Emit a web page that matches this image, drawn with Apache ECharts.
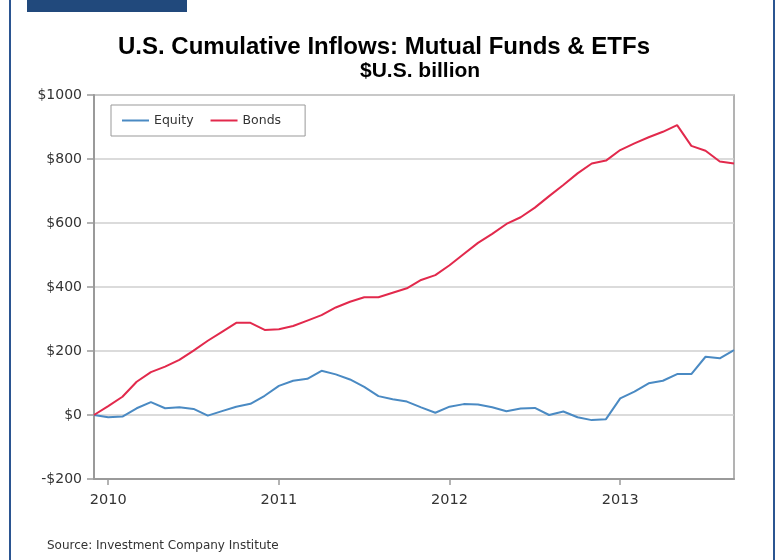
<!DOCTYPE html>
<html>
<head>
<meta charset="utf-8">
<script src="https://cdn.jsdelivr.net/npm/echarts@6/dist/echarts.min.js"></script>
<style>
  html, body { margin: 0; padding: 0; background: #fff; }
  #chart { width: 777px; height: 560px; }
</style>
</head>
<body>
<div id="chart"></div>
<script>
// monthly, Dec 2009 .. Sep 2013
const months = [
  '2009-12',
  '2010-01', '2010-02', '2010-03', '2010-04', '2010-05', '2010-06',
  '2010-07', '2010-08', '2010-09', '2010-10', '2010-11', '2010-12',
  '2011-01', '2011-02', '2011-03', '2011-04', '2011-05', '2011-06',
  '2011-07', '2011-08', '2011-09', '2011-10', '2011-11', '2011-12',
  '2012-01', '2012-02', '2012-03', '2012-04', '2012-05', '2012-06',
  '2012-07', '2012-08', '2012-09', '2012-10', '2012-11', '2012-12',
  '2013-01', '2013-02', '2013-03', '2013-04', '2013-05', '2013-06',
  '2013-07', '2013-08', '2013-09'
]

const equity = [
  0,
  -7, -5, 21, 40, 21, 24, 19, -2, 12, 26, 35, 60,
  91, 107, 113, 138, 127, 111, 88, 59, 49, 42, 24, 7,
  26, 34, 33, 24, 12, 20, 22, 0, 11, -7, -16, -13,
  52, 73, 99, 107, 128, 128, 182, 177, 203
]

const bonds = [
  0,
  28, 57, 104, 134, 151, 172, 201, 232, 260, 288, 288, 266,
  268, 278, 295, 312, 336, 354, 368, 368, 382, 396, 422, 437,
  468, 503, 538, 566, 597, 618, 648, 684, 719, 755, 786, 795,
  828, 849, 868, 885, 906, 841, 826, 792, 786
]

const yTicks = { min: -200, max: 1000, step: 200 }

const chart = echarts.init(document.getElementById('chart'))

const isJan = (i, v) => String(v).endsWith('-01')
const fmtMoney = v => (v < 0 ? '-$' + (-v) : '$' + v)

const option = {
  backgroundColor: '#fff',
  animation: false,
  title: [
    {
      text: 'U.S. Cumulative Inflows: Mutual Funds & ETFs',
      left: 118,
      top: 35,
      padding: 0,
      textStyle: { fontFamily: 'Liberation Sans', fontWeight: 'bold', fontSize: 24, color: '#000' }
    },
    {
      text: '$U.S. billion',
      left: 360,
      top: 61,
      padding: 0,
      textStyle: { fontFamily: 'Liberation Sans', fontWeight: 'bold', fontSize: 21, color: '#000' }
    },
    {
      text: 'Source: Investment Company Institute',
      left: 47,
      top: 540,
      padding: 0,
      textStyle: { fontFamily: 'DejaVu Sans', fontWeight: 'normal', fontSize: 12, color: '#333' }
    }
  ],
  graphic: [
    { type: 'rect', shape: { x: 27, y: 0, width: 160, height: 12 }, style: { fill: '#21497c' } },
    { type: 'rect', shape: { x: 9, y: 0, width: 2, height: 560 }, style: { fill: '#2b5591' } },
    { type: 'rect', shape: { x: 773, y: 0, width: 2, height: 560 }, style: { fill: '#2b5591' } }
  ],
  legend: {
    left: 111,
    top: 105,
    orient: 'horizontal',
    icon: 'rect',
    itemWidth: 27,
    itemHeight: 2,
    itemGap: 17,
    padding: [9, 24, 9, 11],
    borderColor: '#999',
    borderWidth: 1,
    textStyle: { fontFamily: 'DejaVu Sans', fontSize: 12.5, color: '#333' },
    data: ['Equity', 'Bonds']
  },
  grid: {
    left: 94, right: 43, top: 95, bottom: 81,
    show: true,
    borderColor: '#9a9a9a',
    borderWidth: 1.5,
    backgroundColor: 'transparent'
  },
  xAxis: {
    type: 'category',
    data: months,
    boundaryGap: false,
    axisLine: { onZero: false, lineStyle: { color: '#9a9a9a', width: 2 } },
    axisTick: { interval: isJan, length: 6, lineStyle: { color: '#9a9a9a', width: 1.5 } },
    axisLabel: {
      interval: isJan,
      formatter: v => v.slice(0, 4),
      margin: 14,
      fontFamily: 'DejaVu Sans',
      fontSize: 14.5,
      color: '#333'
    },
    splitLine: { show: false }
  },
  yAxis: {
    type: 'value',
    min: yTicks.min,
    max: yTicks.max,
    interval: yTicks.step,
    axisLine: { show: true, lineStyle: { color: '#9a9a9a', width: 2 } },
    axisTick: { show: true, length: 7, lineStyle: { color: '#9a9a9a', width: 1.5 } },
    axisLabel: {
      formatter: fmtMoney,
      margin: 12,
      fontFamily: 'DejaVu Sans',
      fontSize: 14,
      color: '#333'
    },
    splitLine: { lineStyle: { color: '#cfcfcf', width: 1.5 } }
  },
  series: [
    {
      name: 'Equity',
      type: 'line',
      data: equity,
      symbol: 'none',
      lineStyle: { color: '#4a8ac3', width: 2 },
      itemStyle: { color: '#4a8ac3' }
    },
    {
      name: 'Bonds',
      type: 'line',
      data: bonds,
      symbol: 'none',
      lineStyle: { color: '#e2294c', width: 2 },
      itemStyle: { color: '#e2294c' }
    }
  ]
}

chart.setOption(option)
window.addEventListener('resize', () => chart.resize())
</script>
</body>
</html>
